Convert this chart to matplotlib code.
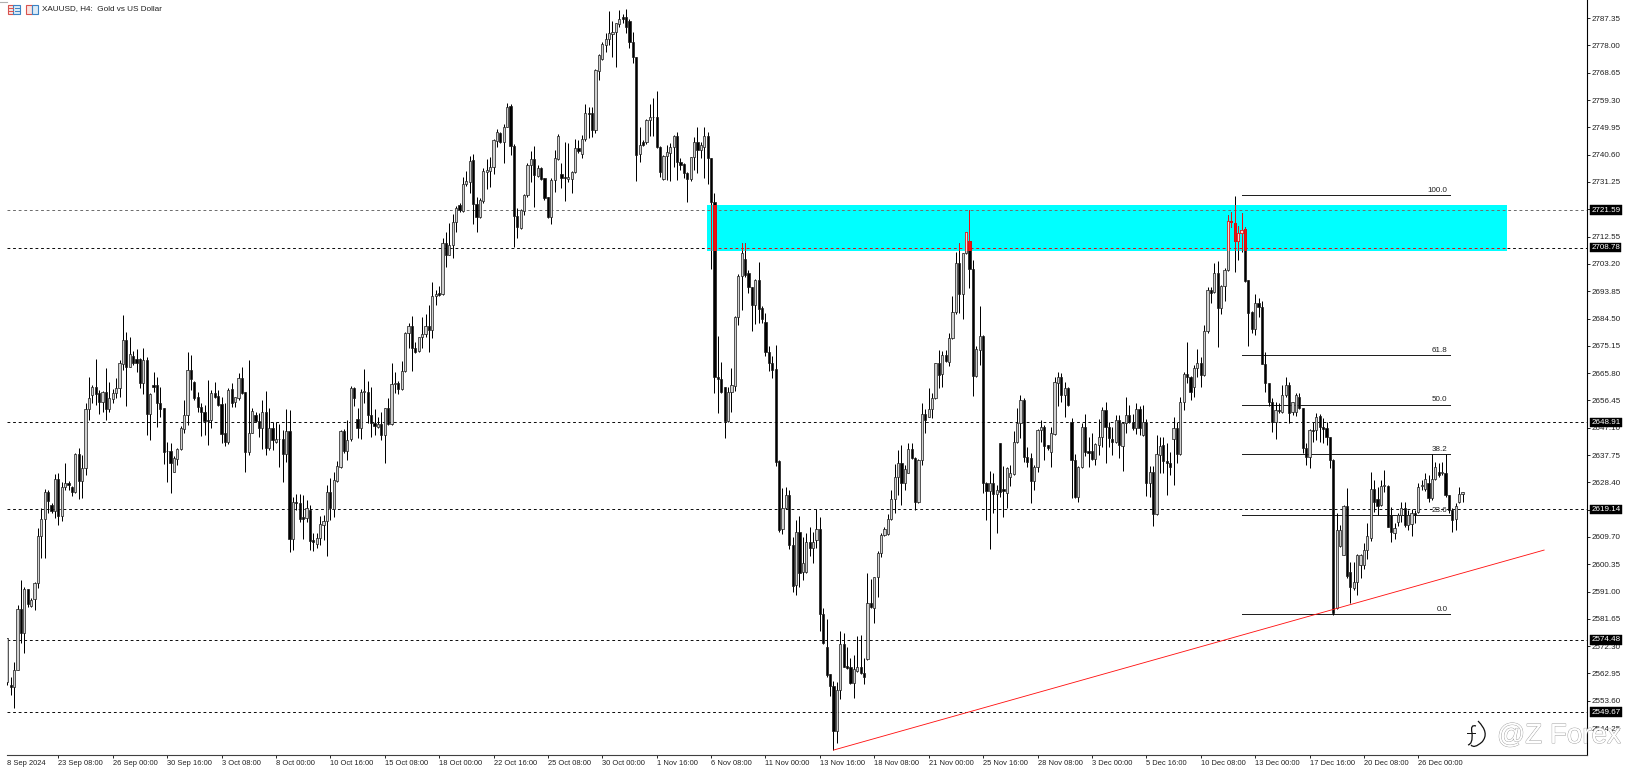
import matplotlib
matplotlib.use("Agg")
import matplotlib.pyplot as plt
import matplotlib.patheffects as pe
from matplotlib.lines import Line2D
from matplotlib.patches import Rectangle, PathPatch
from matplotlib.path import Path

# H4 candles, one value per bar
opens = [
    2560,2559,2558.4,2564,2585,2576.7,2591.8,2586.2,2588.3,2593.8,
    2610,2615.7,2625,2620.6,2618.6,2629.4,2616.9,2626.9,2628.3,2626.7,
    2625.2,2638.1,2629,2633.2,2653.4,2658.3,2660.9,2658.9,2655.8,2659.4,
    2653.5,2656.8,2659.1,2660.6,2669,2677.1,2668,2671.7,2670.5,2670.5,
    2662.5,2670.3,2651.7,2661.7,2661.7,2655.7,2653.7,2639,2639.1,2632,
    2636.3,2639.7,2646.5,2651.5,2666.9,2662.9,2657.5,2654.3,2652.6,2649.7,
    2649.7,2658.9,2658,2655.1,2645.2,2642.3,2660.4,2656,2657.2,2664,
    2659.4,2638.9,2645.4,2651.5,2649.4,2646.9,2652.4,2640,2646.9,2642.3,
    2643.4,2643.2,2638.1,2646.1,2608.9,2621.8,2621.2,2616.6,2616.1,2618.9,
    2608.6,2607.3,2609.2,2613.8,2615.3,2625,2619.3,2629,2633.8,2646,
    2639.1,2643.1,2660.6,2650,2646.9,2659.4,2659.4,2651.4,2648.6,2647.4,
    2648.4,2644.6,2654,2648.4,2662,2662.3,2660.2,2666.5,2679.4,2681.9,
    2674.3,2673.4,2678,2679.2,2681.9,2680.6,2692.2,2693.1,2692.9,2710.2,
    2706.2,2709.7,2717.7,2723.4,2721.4,2730.6,2731.4,2738.8,2723.7,2719.1,
    2724.8,2734.8,2735.1,2736.5,2745.3,2748.1,2745.1,2750.2,2757.4,2743.7,
    2719.6,2715.4,2721.4,2726.8,2737.1,2739.1,2733.4,2736.2,2732.5,2726,
    2719.4,2731.9,2739,2734,2733.1,2732.2,2732.2,2734.6,2743,2740.7,
    2745.9,2755,2754.8,2749.1,2769.4,2773.3,2778.2,2780.1,2781.8,2782.5,
    2785.4,2787.6,2787.6,2786.5,2779.3,2774,2740.7,2745,2745,2752.5,
    2753.4,2753.6,2743.3,2732.2,2740.1,2741.3,2743.3,2747,2738.2,2737.3,
    2734.2,2732.3,2739.7,2744.8,2742.2,2743.4,2747,2739.4,2724.5,2664.4,
    2663.7,2660.9,2649.5,2659.2,2661.5,2684.9,2699.2,2704.8,2700,2695.2,
    2689.1,2697.7,2688,2683.4,2673.1,2669.4,2667.1,2635.7,2612.3,2619.5,
    2624.1,2606.9,2593.2,2611.5,2597.6,2597.8,2608.1,2605.8,2608.6,2612.4,
    2583.3,2571.9,2562.6,2558.7,2543.4,2557.3,2573,2565.5,2565,2559.8,
    2563.9,2565.3,2563,2567.8,2587.2,2585.2,2595.9,2604.1,2610.4,2610.7,
    2615.7,2622.6,2630.1,2635.1,2628.1,2631.7,2639.7,2636.6,2621.8,2636,
    2651.7,2650.9,2653.4,2657.2,2669.1,2665.5,2672,2669.7,2677.7,2686.6,
    2703.4,2692.8,2707,2711.2,2701.3,2664.9,2673.7,2678.5,2628,2625.5,
    2628,2624.4,2641.7,2626,2624.8,2630.1,2631.3,2642.3,2648.6,2656.6,
    2637.2,2636.6,2629,2633.5,2646.3,2647.2,2641.2,2638.9,2644.8,2662.5,
    2664.4,2658.3,2660.6,2649.2,2636,2623.3,2633.8,2647.2,2639.1,2639.1,
    2636.3,2641.2,2644,2653.2,2647.2,2643.1,2642.3,2649.7,2641,2648.8,
    2651.5,2649.2,2646.9,2653.4,2644.6,2649.2,2628,2632,2617.5,2637.7,
    2641.2,2635.8,2634.9,2643.4,2646.9,2638.1,2655.8,2665.5,2664.6,2660.9,
    2667.4,2669.1,2665.2,2680.3,2694.2,2693.7,2700,2688,2695.6,2701.1,
    2718,2717.1,2711.2,2713.7,2715,2697.7,2686.8,2680.8,2689.9,2688.5,
    2668.9,2662.3,2656,2649.2,2653.2,2652.6,2658.3,2661.7,2652.6,2652.6,
    2657.7,2653.7,2640,2637.2,2646.3,2646.3,2651.1,2647.4,2646.9,2644,
    2636,2585.2,2606.6,2603.5,2620.3,2597.8,2592.1,2594.4,2600,2600,
    2605.2,2609.2,2626,2622.6,2620.6,2627.3,2627.1,2617.2,2611,2614.9,
    2617.2,2619.5,2613.8,2614.1,2617.8,2618.3,2627.1,2626,2628,2622.9,
    2629.4,2632,2631.5,2631.5,2624,2618.9,2615.7,2621.7,2624.4,
]
highs = [
    2575,2561.9,2567,2586.4,2595,2592.7,2592,2588.7,2594.4,2612.6,
    2619.5,2626,2625.8,2621.2,2631.2,2631.5,2628.6,2634.9,2629,2627.1,
    2638.6,2640,2637.8,2655.4,2664.4,2661.7,2670.5,2660,2659.7,2667.4,
    2662.9,2660.2,2664,2670.3,2685.7,2679.8,2678,2673.4,2674,2670.9,
    2674.3,2671.4,2658.9,2666.1,2664.4,2660.9,2653.7,2642.1,2642,2637.3,
    2640,2647.7,2656.6,2673.2,2672,2663.2,2659.4,2655.5,2654.9,2663.4,
    2660,2662.9,2660,2657.7,2655.4,2660.6,2662.3,2657.7,2665.7,2667.8,
    2659.4,2670.3,2653.7,2652.6,2652.2,2656.6,2659.7,2653.7,2649.2,2649.2,
    2648.4,2646.3,2653.4,2653.2,2623.5,2624.4,2624.4,2624,2622.4,2620.6,
    2611.2,2611.2,2616.9,2617.2,2627.5,2629.8,2632,2635.8,2646.2,2646.5,
    2649.9,2661.4,2661.2,2653.7,2660.2,2667.1,2663.2,2661.2,2653.4,2650.9,
    2652.6,2654,2657.2,2669.2,2666.3,2663.2,2670,2680,2682.9,2685.4,
    2676.6,2678.3,2685.1,2686,2689.1,2696.9,2694.3,2695.6,2712,2714.2,
    2717.1,2720.2,2723,2723.9,2732.8,2735,2740.2,2740.8,2726,2725.7,
    2735.9,2739,2739.7,2745.9,2749.3,2748.5,2751.1,2758.4,2758,2744.1,
    2722.2,2721.9,2727,2737.9,2742,2743.6,2737.1,2736.5,2732.7,2726.2,
    2732.5,2742.2,2747.7,2737.6,2745.1,2744.7,2735,2745.9,2745.6,2747.4,
    2758,2756.8,2757,2769.8,2775,2779.3,2782.2,2789.9,2786.5,2785.8,
    2790.2,2788.8,2790.4,2787,2782.5,2774,2750,2745.6,2752.7,2758,
    2759.9,2762.5,2743.6,2740.5,2743.9,2744.5,2747.4,2748.5,2739.6,2737.6,
    2734.8,2739.9,2746.8,2750,2745.1,2750,2748.5,2739.4,2727.4,2678.5,
    2669.7,2660.9,2661.2,2667.4,2685.4,2699.6,2710.5,2710.5,2701.1,2695.2,
    2697.9,2704,2688.8,2686.3,2675.2,2671.6,2675.4,2636,2626.3,2626.9,
    2625.8,2609.8,2615.5,2616.9,2609.8,2610.9,2613.2,2611.5,2619.2,2616.4,
    2585.2,2581.5,2562.6,2560.5,2560.1,2577.6,2576.9,2571.9,2568.1,2569.3,
    2575.8,2576.1,2568.1,2597.5,2595.2,2596.1,2604.9,2610.9,2613,2617.6,
    2625.8,2634.7,2639.5,2641.2,2634.3,2641.8,2641.8,2637.2,2636.3,2655.4,
    2653.4,2660.6,2658.9,2669.1,2673.7,2673.5,2673.7,2679.4,2692.3,2707.4,
    2710.2,2707,2714,2721.7,2704.5,2675,2688.9,2679,2628.6,2632.4,
    2631.5,2627.5,2641.8,2634,2633.7,2634.3,2646.1,2653.7,2658.3,2657.2,
    2640.6,2638.3,2634.3,2646.5,2649.7,2648,2641.2,2647.5,2664.4,2666.3,
    2666,2662.9,2660.9,2650.3,2638.1,2634,2648.6,2651.8,2644,2645.2,
    2641.8,2650,2654.1,2656,2649.2,2647.2,2651.4,2651.4,2649.2,2657.5,
    2654.9,2651.8,2655.7,2654.5,2654.9,2650,2634,2634,2644.6,2644,
    2644,2641.7,2638.9,2650.6,2649.2,2657.7,2666.3,2676.6,2664.8,2668.6,
    2673.9,2671.4,2682.3,2695.4,2695.4,2703.6,2704.3,2696,2701.7,2720,
    2721,2726.5,2716.2,2720.5,2715.9,2697.7,2687.2,2692.9,2691.4,2690.6,
    2673.1,2662.3,2657.2,2656,2655.4,2661.7,2664.6,2662.9,2656,2658.9,
    2658.9,2653.7,2641.7,2646.5,2649.2,2652,2651.8,2650.3,2649.2,2644,
    2636.4,2618,2613.8,2620.6,2626.3,2601.2,2601.2,2604,2604,2607.5,
    2614.3,2632,2629.2,2626.9,2629.2,2632.6,2627.5,2620,2614.3,2617.8,
    2621.5,2621.5,2618.9,2619.1,2618.9,2628.3,2629.2,2631.5,2630.9,2638.1,
    2635.5,2634.9,2635.5,2638.1,2624,2619.5,2621.2,2626.9,2625.2,
]
lows = [
    2559,2555.6,2551,2564,2573.3,2569.8,2585.8,2585.8,2584.7,2592.3,
    2602.4,2602.4,2617.8,2617.8,2616.1,2613.8,2615,2625.8,2625.8,2623.7,
    2624.6,2622.6,2623.2,2630.9,2649.7,2655.5,2655,2651.7,2652.6,2649.7,
    2652.6,2655.7,2657.2,2657.7,2666.9,2654.7,2667.8,2668.6,2666.3,2660.6,
    2658.7,2644.6,2642.9,2659.4,2647.5,2650.7,2634.7,2628.6,2624.6,2631.8,
    2634.5,2639.5,2645.2,2648,2660,2656.6,2652.6,2644.4,2644.6,2641.2,
    2646.9,2657.2,2654.5,2641.7,2641,2641.5,2654.3,2654.3,2656.6,2658.6,
    2631.8,2637.8,2645.2,2649.2,2643.8,2639.7,2637.8,2639.5,2639.5,2642,
    2633.8,2628.6,2635.5,2604.7,2605.2,2618.9,2614.9,2609,2614.9,2605.2,
    2605,2605.8,2606.9,2608.7,2603,2615.5,2616.6,2628.6,2633.4,2638.3,
    2636,2642.7,2654.7,2643.5,2643.1,2655.5,2648.6,2643.8,2644.6,2646.9,
    2642.9,2635,2648,2648,2659.1,2658.6,2660,2666.3,2674.3,2666.6,
    2672.8,2673.1,2674.3,2678,2673.1,2677.9,2689.1,2692.2,2692.5,2702,
    2706.2,2705.1,2714.2,2721.1,2721.1,2730,2727.4,2716.9,2714,2718.8,
    2724.2,2728.9,2729.7,2733.9,2743.4,2744.7,2737.9,2750,2740.5,2708.9,
    2712,2715,2720,2726.2,2731.4,2722.6,2733.1,2731.9,2725.1,2718.8,
    2716.9,2727.9,2738.8,2729.1,2724.9,2731.4,2727.6,2734.2,2741.3,2739.6,
    2745.4,2746.2,2746.5,2748.1,2766.2,2773,2775.9,2778.2,2774,2770.7,
    2784.4,2785.6,2782.2,2777,2771.9,2731.6,2738.2,2743.7,2744.3,2747,
    2747,2742.8,2732.9,2731.9,2731.9,2731.7,2736.5,2731.9,2735.4,2732.5,
    2724.5,2731.7,2735.4,2734.2,2739.4,2732.5,2730.4,2701.3,2658.9,2652.3,
    2658.9,2643.5,2649.2,2652.6,2659.8,2682.3,2687.4,2698.8,2693.1,2680.3,
    2682.6,2682.8,2682.8,2671.8,2666.6,2664,2634.1,2611.5,2610.6,2619.2,
    2605.5,2590.9,2589.8,2592.4,2594.9,2597.5,2603.2,2600.9,2605.8,2577.6,
    2573,2561.6,2555.2,2536.7,2539,2554.1,2565,2564.4,2559.5,2554.4,
    2563.6,2562.8,2559.3,2567.6,2585.2,2580.3,2589.2,2602.7,2610,2610.4,
    2615.5,2618,2624.1,2620.6,2625.8,2631.5,2636.3,2618.9,2621.2,2634.3,
    2645.4,2650.6,2650.3,2656.8,2660.6,2661.1,2669.7,2668.2,2677.4,2685.9,
    2686.3,2684.3,2706.6,2694.8,2658.1,2664.6,2668.6,2624.6,2615.5,2605.5,
    2618,2610.9,2623.5,2616.6,2619.5,2627.1,2630.9,2641.8,2643.5,2635.5,
    2633.5,2621.2,2625.8,2632,2642.3,2636,2639.5,2633.8,2644.6,2654.7,
    2656,2650.6,2654.6,2622.9,2622.9,2621.8,2633.2,2637.4,2633.5,2636,
    2634.3,2637.8,2640.6,2635.1,2640.4,2637.8,2641.8,2636.6,2632.4,2645.2,
    2648.8,2646.3,2645,2644.6,2644.3,2623.7,2623.5,2613.4,2617.2,2631.5,
    2631.5,2624,2630.9,2627.5,2634.9,2637.7,2653.2,2662.5,2656.6,2657.5,
    2664.6,2661.1,2664.8,2679.4,2689.9,2693.1,2674.9,2686,2690.6,2700.9,
    2715.9,2700.5,2704.5,2707.4,2697.1,2675,2679.4,2678.8,2685.1,2668.9,
    2659.4,2654.5,2645.7,2643.4,2652,2652,2657.7,2648.6,2651.4,2651.1,
    2653.4,2638.3,2634.3,2633.2,2642.3,2642.9,2642.3,2641.7,2641.2,2633.2,
    2583,2585,2606.3,2603.5,2595.5,2587,2591.5,2589.8,2595.5,2598.6,
    2602,2608.4,2618.3,2617.2,2620.3,2625.2,2613,2608,2608.9,2613.4,
    2614.9,2613.2,2612,2610.1,2614.6,2618,2625.7,2625.5,2621.5,2622.3,
    2629.2,2630.3,2630.9,2623.5,2617.8,2611.5,2612,2621.4,2621.7,
]
closes = [
    2575,2558.3,2564.1,2585,2576.7,2591.8,2586.7,2588.1,2594,2610,
    2615.7,2625.2,2622.1,2618.6,2629.4,2616.9,2626.9,2628,2627.6,2625.2,
    2638.1,2629,2633.2,2653.4,2657.2,2660.9,2658.7,2655.8,2659.4,2653.5,
    2657.2,2659.1,2660.6,2669.2,2677.1,2668,2672.2,2669.4,2669.4,2662.5,
    2670.3,2651.7,2658.5,2661.1,2655.7,2653.4,2638.9,2639.2,2635.1,2636.9,
    2639.8,2646.9,2651.5,2666.9,2663.7,2657.2,2654.1,2652.6,2649.5,2649.5,
    2658.9,2657.7,2654.9,2645,2642.3,2660,2655.7,2657.5,2664,2658.9,
    2638.9,2645.4,2652.8,2649.5,2646.9,2652.4,2640,2646.9,2642.9,2643.4,
    2643.1,2638.1,2646,2608.9,2621.8,2621.2,2615.7,2615.8,2619.5,2608.4,
    2608.1,2609.2,2614,2615.3,2625,2619.5,2629.2,2634,2646,2639.1,
    2642.9,2660.6,2657.2,2646.9,2659.4,2659.7,2651.4,2648.6,2647.7,2648.3,
    2644.6,2654,2648.4,2662,2662.5,2660.2,2666.5,2679.6,2681.9,2674.3,
    2673.1,2678,2679.2,2681.9,2680.6,2692.3,2692.9,2692.5,2710.2,2706.2,
    2709.7,2717.7,2722.5,2721.7,2730.6,2731.6,2738.6,2723.7,2719.1,2725.1,
    2735.1,2735.4,2736.3,2745.6,2748.5,2745.1,2750,2757,2743.6,2719.6,
    2716,2721.7,2726.8,2737.1,2739.1,2733.6,2735.9,2732.3,2725.9,2719.4,
    2731.9,2739.4,2747,2732.5,2732.5,2733.1,2734.8,2743,2741.9,2745.9,
    2755,2754.5,2749.1,2769.6,2774.7,2778.4,2780.1,2782.2,2782.5,2785.6,
    2787.1,2787,2784.4,2779.1,2774,2740.5,2743.9,2743.9,2752.5,2753.4,
    2753.6,2743.3,2734.8,2740.1,2741.6,2743.3,2747,2738.2,2737.1,2734.2,
    2732.3,2739.7,2745.1,2742.2,2743.9,2747.1,2739.4,2724.5,2664.3,2663.7,
    2659.2,2649.5,2659.2,2661.7,2684.9,2699.2,2707,2699.4,2695.2,2689.1,
    2697.7,2687.8,2684.2,2673.1,2669.1,2666.9,2635.4,2612.1,2619.5,2624.1,
    2606.9,2593,2611.5,2597.2,2600.6,2608.1,2605.8,2608.1,2612.4,2583.3,
    2573.3,2562.4,2558.7,2543.4,2557.3,2573,2565.3,2564.7,2559.8,2564.4,
    2565.3,2563,2561.9,2587.2,2585.6,2595.9,2604.1,2610.4,2612.3,2615.7,
    2622.6,2630.1,2634.9,2628.3,2632.9,2639.7,2636.6,2621.8,2636,2651.7,
    2649.7,2653.4,2657.2,2669.1,2665.2,2672,2669.9,2677.7,2686.6,2703.4,
    2692.8,2707,2714,2701.3,2664.9,2673.9,2678.5,2628,2625.5,2628,
    2624.4,2625.8,2625,2625.5,2633.4,2631.5,2642.3,2648.6,2656.6,2637.2,
    2635.5,2629,2633.5,2646.3,2647.2,2640.8,2640,2645.2,2662.6,2664.4,
    2658.3,2660.6,2654.9,2636,2623.3,2633.8,2647.2,2638.9,2638.6,2636.3,
    2641.4,2644,2653.2,2647.2,2643.5,2642.3,2649.7,2641.2,2648.8,2651.5,
    2649.2,2646.9,2653.4,2646.9,2649.2,2628,2632,2617.5,2638.1,2640.8,
    2635.8,2634.9,2633.5,2646.9,2638.1,2655.8,2665.5,2664.6,2659.4,2667.4,
    2669.1,2665.2,2680.3,2694.2,2693.3,2700,2688,2695.6,2701.1,2718,
    2717.7,2711.2,2713.7,2714.8,2697.5,2686.3,2680.8,2689.9,2688.5,2668.9,
    2662.3,2656,2649.2,2653.2,2652.9,2658.3,2661.7,2652.2,2656,2658.3,
    2653.7,2640,2637.2,2646.3,2646,2650.7,2647.2,2646.8,2644,2636,
    2583.5,2612,2612,2620.3,2596.3,2592.6,2594.4,2603.5,2603.5,2605.2,
    2610,2626,2621.8,2620.3,2627.1,2627.5,2613.2,2611.5,2612.9,2617.2,
    2619.5,2613.8,2617.2,2617.8,2617.2,2626.9,2627.2,2629.4,2622.9,2629.4,
    2633.5,2630.9,2632,2624,2618.9,2615.5,2620.3,2624.4,2625.2,
]

x_labels = ["8 Sep 2024", "23 Sep 08:00", "26 Sep 00:00", "30 Sep 16:00", "3 Oct 08:00",
            "8 Oct 00:00", "10 Oct 16:00", "15 Oct 08:00", "18 Oct 00:00", "22 Oct 16:00",
            "25 Oct 08:00", "30 Oct 00:00", "1 Nov 16:00", "6 Nov 08:00", "11 Nov 00:00",
            "13 Nov 16:00", "18 Nov 08:00", "21 Nov 00:00", "25 Nov 16:00", "28 Nov 08:00",
            "3 Dec 00:00", "5 Dec 16:00", "10 Dec 08:00", "13 Dec 00:00", "17 Dec 16:00",
            "20 Dec 08:00", "26 Dec 00:00"]
x_ticks = [0] + [15 + 16 * k for k in range(26)]

y_ticks = [2787.35, 2778.00, 2768.65, 2759.30, 2749.95, 2740.60, 2731.25, 2721.90, 2712.55,
           2703.20, 2693.85, 2684.50, 2675.15, 2665.80, 2656.45, 2647.10, 2637.75, 2628.40,
           2619.05, 2609.70, 2600.35, 2591.00, 2581.65, 2572.30, 2562.95, 2553.60, 2544.25]

price_levels = [2721.59, 2708.78, 2648.91, 2619.14, 2574.48, 2549.67]
fib_labels = ["100.0", "61.8", "50.0", "38.2", "23.6", "0.0"]
fib_prices = [2726.8, 2672.0, 2655.05, 2638.1, 2617.2, 2583.3]
fib_span = [363.2, 424.3]
zone_prices = [2707.7, 2723.4]
zone_bars = [205.8, 441.0]
trend_bars = [243, 452]
trend_prices = [2536.7, 2605.2]

W, H = 1639, 777
BAR_PX = 3.4
X0_PX = 7.3
FONT = "Liberation Sans"
DASH = (0, (2.8, 2.8))


def fx(px):
    return px / W


def fy(py):
    return 1 - py / H


def draw_candles(ax, wick_col, edge_col, body_col, up_col, zorder, clip=None):
    for i, (o, h, l, c) in enumerate(zip(opens, highs, lows, closes)):
        artists = ax.plot([i, i], [l, h], color=wick_col, lw=0.72, zorder=zorder,
                          solid_capstyle="butt")
        up = c >= o
        body = Rectangle((i - 0.31, min(o, c)), 0.62, max(abs(c - o), 0.25),
                         facecolor=up_col if up else body_col, edgecolor=edge_col,
                         lw=0.5, zorder=zorder + 0.1)
        ax.add_patch(body)
        if clip is not None:
            artists[0].set_clip_path(clip)
            body.set_clip_path(clip)


fig = plt.figure(figsize=(W / 100, H / 100), dpi=100, facecolor="white")
ax = fig.add_axes([fx(7), 1 - 755 / H, fx(1586.7 - 7), 755 / H])
ax.set_facecolor("white")

xlim = ((7 - X0_PX) / BAR_PX, (1586.7 - X0_PX) / BAR_PX)

# zone goes under everything, its candles are redrawn red on top
zone = Rectangle((zone_bars[0], zone_prices[0]), zone_bars[1] - zone_bars[0],
                 zone_prices[1] - zone_prices[0], facecolor="#00ffff", edgecolor="none", zorder=1)
ax.add_patch(zone)

for p in price_levels:
    if p == 2708.78:
        # this one turns red where it crosses the zone
        ax.plot([xlim[0], zone_bars[0]], [p, p], color="#101010", lw=0.72, ls=DASH, zorder=1.5)
        ax.plot(zone_bars, [p, p], color="#e01010", lw=0.72, ls=DASH, zorder=1.5)
        ax.plot([zone_bars[1], xlim[1]], [p, p], color="#101010", lw=0.72, ls=DASH, zorder=1.5)
    else:
        col = "#6e6e6e" if p == 2721.59 else "#101010"
        ax.plot(xlim, [p, p], color=col, lw=0.72, ls=DASH, zorder=1.5)

for lab, p in zip(fib_labels, fib_prices):
    ax.plot(fib_span, [p, p], color="#202020", lw=0.72, zorder=1.7)
    ax.text(fib_span[1] - 0.7, p + 0.35, lab, ha="right", va="bottom", fontsize=5.8,
            family=FONT, color="#202020", zorder=5)

draw_candles(ax, "black", "#1a1a1a", "black", "#cfcfcf", 2)
draw_candles(ax, "#f01010", "#f01010", "#f01010", "#f4d8d8", 3, clip=zone)

ax.plot(trend_bars, trend_prices, color="#ff1010", lw=0.62, zorder=4)

ax.set_xlim(xlim)
ax.set_ylim(2731.25 - (755 - 182) / 2.92, 2731.25 + 182 / 2.92)

for s in ("top", "left"):
    ax.spines[s].set_visible(False)
ax.spines["right"].set_color("black")
ax.spines["right"].set_linewidth(0.8)
ax.spines["bottom"].set_color("#404040")
ax.spines["bottom"].set_linewidth(0.8)

ax.yaxis.tick_right()
ax.set_yticks(y_ticks)
ax.set_yticklabels([f"{v:.2f}" for v in y_ticks], fontsize=5.8, family=FONT, color="#202020")
ax.tick_params(axis="y", length=2.4, width=0.6, pad=1.0)
ax.set_xticks(x_ticks)
ax.set_xticklabels(x_labels, fontsize=5.4, family=FONT, color="#202020", ha="left")
ax.tick_params(axis="x", length=2.4, width=0.6, pad=1.4)
ax.xaxis.get_major_ticks()[0].tick1line.set_visible(False)

for p in price_levels:
    ax.annotate(f"{p:.2f}", xy=(1, p), xycoords=("axes fraction", "data"), xytext=(3.3, 0),
                textcoords="offset points", va="center", ha="left", fontsize=5.8, family=FONT,
                color="white", annotation_clip=False, zorder=10,
                bbox=dict(boxstyle="square,pad=0.16", facecolor="black", edgecolor="black", lw=0.3))

# header icons and title
fig.text(fx(42), fy(9), "XAUUSD, H4:  Gold vs US Dollar", fontsize=5.9, family=FONT,
         va="center", ha="left", color="#202020")
for x in (7.5, 25.5):
    fig.add_artist(Rectangle((fx(x), fy(13.5)), 6 / W, 8.5 / H, facecolor="#fbe3e0", edgecolor="#d9534f",
                             lw=0.8, transform=fig.transFigure))
    fig.add_artist(Rectangle((fx(x + 6), fy(13.5)), 6 / W, 8.5 / H, facecolor="#dcebf7", edgecolor="#3b83c4",
                             lw=0.8, transform=fig.transFigure))
for yy in (8, 11):
    fig.add_artist(Line2D([fx(8.5), fx(12.5)], [fy(yy), fy(yy)], color="#d9534f", lw=0.7))
    fig.add_artist(Line2D([fx(14.5), fx(18.5)], [fy(yy), fy(yy)], color="#3b83c4", lw=0.7))
fig.add_artist(Line2D([0, fx(7)], [fy(1.5), fy(1.5)], color="#b0b0b0", lw=0.8))

# watermark
wm = fig.text(fx(1497), fy(743), "@Z Forex", fontsize=20, family=FONT, va="baseline", ha="left",
              color="white", zorder=20)
wm.set_path_effects([pe.withStroke(linewidth=0.6, foreground="#9a9a9a")])
logo_paths = [
    ([(1478, 721), (1490, 733), (1482, 742), (1474, 749), (1471, 745)],
     [Path.MOVETO, Path.CURVE3, Path.CURVE3, Path.CURVE3, Path.CURVE3]),
    ([(1476, 726), (1470, 724), (1472, 733), (1473, 744), (1468, 745)],
     [Path.MOVETO, Path.CURVE3, Path.CURVE3, Path.CURVE3, Path.CURVE3]),
]
for pts, codes in logo_paths:
    scaled = [(fx(a), fy(b)) for a, b in pts]
    fig.add_artist(PathPatch(Path(scaled, codes), facecolor="none", edgecolor="#101010", lw=0.9,
                             transform=fig.transFigure, zorder=20))
fig.add_artist(Line2D([fx(1467), fx(1475)], [fy(733), fy(733)], color="#101010", lw=0.7, zorder=20))

fig.savefig("out.png", dpi=100, facecolor="white")
